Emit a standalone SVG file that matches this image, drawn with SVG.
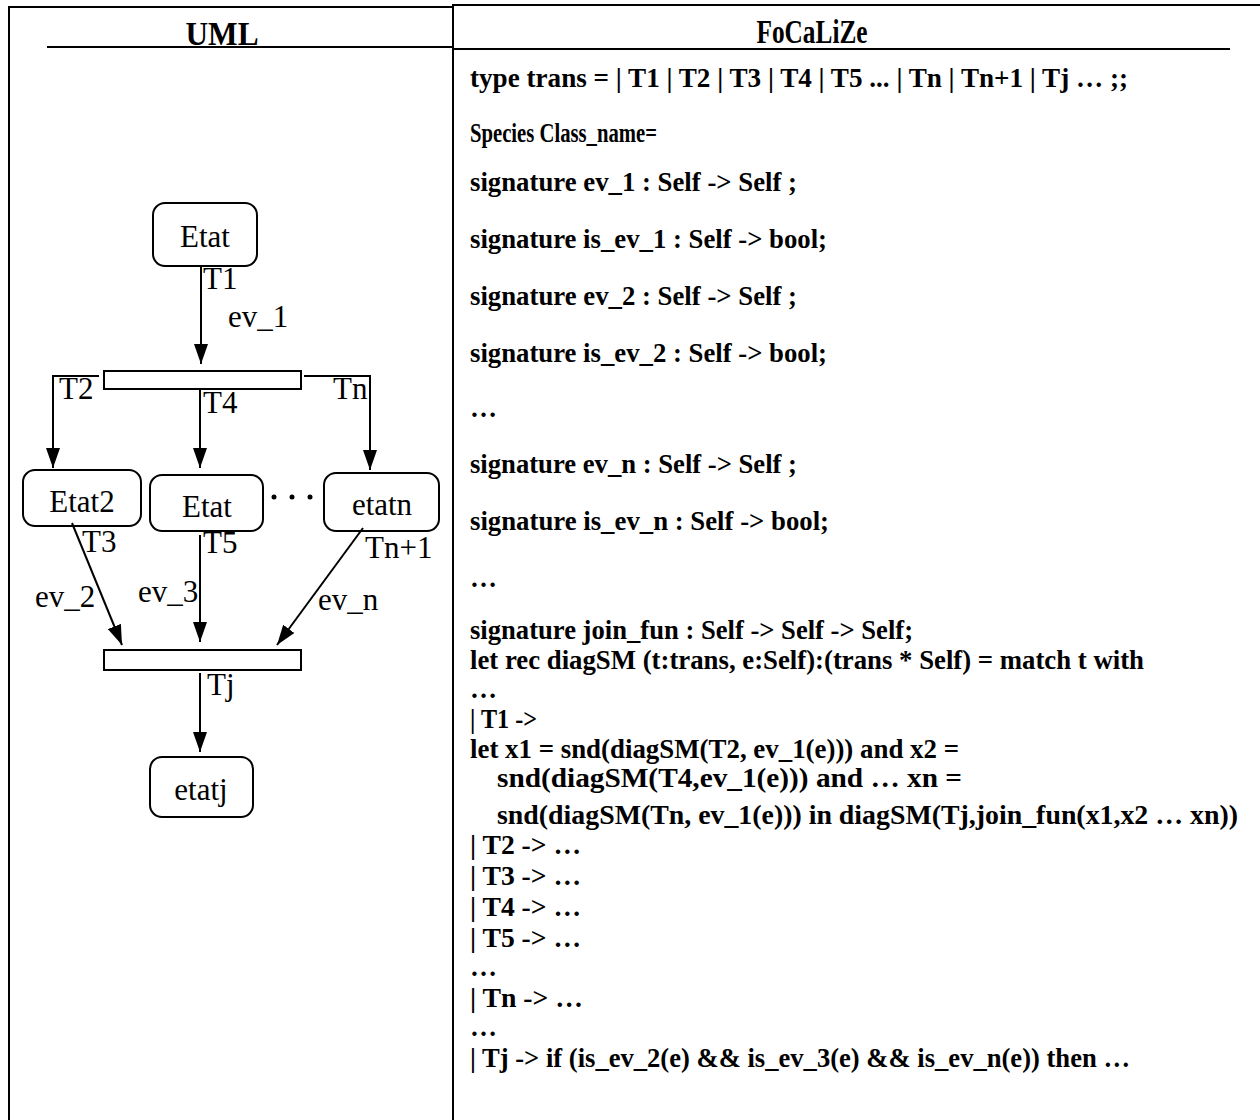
<svg xmlns="http://www.w3.org/2000/svg" width="1260" height="1120" viewBox="0 0 1260 1120">
<style>
.frame{stroke:#000;stroke-width:2;fill:none}
.hdr{font-family:"Liberation Serif","Times New Roman",serif;font-weight:bold;font-size:34px;text-anchor:middle}
.code{font-family:"Liberation Serif","Times New Roman",serif;font-weight:bold;font-size:27px}
.state{fill:#fff;stroke:#000;stroke-width:2}
.bar{fill:#fff;stroke:#000;stroke-width:2}
.lbl{font-family:"Liberation Serif","Times New Roman",serif;font-size:31px}
.nm{font-family:"Liberation Serif","Times New Roman",serif;font-size:31px;text-anchor:middle}
.edge{stroke:#000;stroke-width:2;fill:none;marker-end:url(#arr)}
</style>
<defs>
<marker id="arr" viewBox="0 0 20 14" refX="20" refY="7" markerWidth="20" markerHeight="14" markerUnits="userSpaceOnUse" orient="auto">
<path d="M0,0 L20,7 L0,14 z" fill="#000"/>
</marker>
</defs>
<rect width="1260" height="1120" fill="#fff"/>
<g id="table">
<line class="frame" x1="9" y1="7" x2="453" y2="7"/>
<line class="frame" x1="453" y1="5" x2="1260" y2="5"/>
<line class="frame" x1="9" y1="6" x2="9" y2="1120"/>
<line class="frame" x1="453" y1="4" x2="453" y2="1120"/>
<line class="frame" x1="47" y1="47" x2="453" y2="47"/>
<line class="frame" x1="453" y1="49" x2="1230" y2="49"/>
<text class="hdr" x="222" y="45" textLength="73" lengthAdjust="spacingAndGlyphs">UML</text>
<text class="hdr" x="812" y="43" textLength="111" lengthAdjust="spacingAndGlyphs">FoCaLiZe</text>
</g>
<g id="code">
<text class="code" x="470" y="87" textLength="658" lengthAdjust="spacingAndGlyphs">type trans = | T1 | T2 | T3 | T4 | T5 ... | Tn | Tn+1 | Tj … ;;</text>
<text class="code" x="470" y="142" textLength="187" lengthAdjust="spacingAndGlyphs">Species Class_name=</text>
<text class="code" x="470" y="191" textLength="327" lengthAdjust="spacingAndGlyphs">signature ev_1 : Self -&gt; Self ;</text>
<text class="code" x="470" y="248" textLength="357" lengthAdjust="spacingAndGlyphs">signature is_ev_1 : Self -&gt; bool;</text>
<text class="code" x="470" y="305" textLength="327" lengthAdjust="spacingAndGlyphs">signature ev_2 : Self -&gt; Self ;</text>
<text class="code" x="470" y="362" textLength="357" lengthAdjust="spacingAndGlyphs">signature is_ev_2 : Self -&gt; bool;</text>
<text class="code" x="470" y="417">…</text>
<text class="code" x="470" y="473" textLength="327" lengthAdjust="spacingAndGlyphs">signature ev_n : Self -&gt; Self ;</text>
<text class="code" x="470" y="530" textLength="359" lengthAdjust="spacingAndGlyphs">signature is_ev_n : Self -&gt; bool;</text>
<text class="code" x="470" y="587">…</text>
<text class="code" x="470" y="639" textLength="443" lengthAdjust="spacingAndGlyphs">signature join_fun : Self -&gt; Self -&gt; Self;</text>
<text class="code" x="470" y="669" textLength="674" lengthAdjust="spacingAndGlyphs">let rec diagSM (t:trans, e:Self):(trans * Self) = match t with</text>
<text class="code" x="470" y="698">…</text>
<text class="code" x="470" y="728" textLength="67" lengthAdjust="spacingAndGlyphs">| T1 -&gt;</text>
<text class="code" x="470" y="758" textLength="489" lengthAdjust="spacingAndGlyphs">let x1 = snd(diagSM(T2, ev_1(e))) and x2 =</text>
<text class="code" x="497" y="787" textLength="465" lengthAdjust="spacingAndGlyphs">snd(diagSM(T4,ev_1(e))) and … xn =</text>
<text class="code" x="497" y="824" textLength="741" lengthAdjust="spacingAndGlyphs">snd(diagSM(Tn, ev_1(e))) in diagSM(Tj,join_fun(x1,x2 … xn))</text>
<text class="code" x="470" y="854" textLength="111" lengthAdjust="spacingAndGlyphs">| T2 -&gt; …</text>
<text class="code" x="470" y="885" textLength="111" lengthAdjust="spacingAndGlyphs">| T3 -&gt; …</text>
<text class="code" x="470" y="916" textLength="111" lengthAdjust="spacingAndGlyphs">| T4 -&gt; …</text>
<text class="code" x="470" y="947" textLength="111" lengthAdjust="spacingAndGlyphs">| T5 -&gt; …</text>
<text class="code" x="470" y="976">…</text>
<text class="code" x="470" y="1007" textLength="113" lengthAdjust="spacingAndGlyphs">| Tn -&gt; …</text>
<text class="code" x="470" y="1036">…</text>
<text class="code" x="470" y="1067" textLength="660" lengthAdjust="spacingAndGlyphs">| Tj -&gt; if (is_ev_2(e) &amp;&amp; is_ev_3(e) &amp;&amp; is_ev_n(e)) then …</text>
</g>
<g id="node-etat">
<rect class="state" x="153" y="203" width="104" height="63" rx="12"/>
<text class="nm" x="205" y="247">Etat</text>
</g>
<g id="node-fork">
<rect class="bar" x="104" y="371" width="197" height="18"/>
</g>
<g id="node-etat2">
<rect class="state" x="23" y="470" width="118" height="56" rx="12"/>
<text class="nm" x="82" y="512">Etat2</text>
</g>
<g id="node-etat-mid">
<rect class="state" x="150" y="475" width="113" height="56" rx="12"/>
<text class="nm" x="207" y="517">Etat</text>
</g>
<g id="node-dots">
<circle cx="274" cy="497" r="2.5"/>
<circle cx="292" cy="497" r="2.5"/>
<circle cx="310" cy="497" r="2.5"/>
</g>
<g id="node-etatn">
<rect class="state" x="324" y="473" width="115" height="58" rx="12"/>
<text class="nm" x="382" y="515">etatn</text>
</g>
<g id="node-join">
<rect class="bar" x="104" y="650" width="197" height="20"/>
</g>
<g id="node-etatj">
<rect class="state" x="150" y="757" width="103" height="60" rx="12"/>
<text class="nm" x="201" y="800">etatj</text>
</g>
<g id="connectors">
<path class="edge" d="M201,266 L201,364"/>
<path class="edge" d="M99,376 L53,376 L53,468"/>
<path class="edge" d="M200,389 L200,468"/>
<path class="edge" d="M304,376 L370,376 L370,470"/>
<path class="edge" d="M72,523 L122,645"/>
<path class="edge" d="M200,535 L200,642"/>
<path class="edge" d="M363,528 L277,645"/>
<path class="edge" d="M200,673 L200,752"/>
<text class="lbl" x="203" y="289">T1</text>
<text class="lbl" x="228" y="327">ev_1</text>
<text class="lbl" x="59" y="399">T2</text>
<text class="lbl" x="203" y="413">T4</text>
<text class="lbl" x="333" y="399">Tn</text>
<text class="lbl" x="82" y="552">T3</text>
<text class="lbl" x="35" y="607">ev_2</text>
<text class="lbl" x="203" y="553">T5</text>
<text class="lbl" x="138" y="602">ev_3</text>
<text class="lbl" x="365" y="558">Tn+1</text>
<text class="lbl" x="318" y="610">ev_n</text>
<text class="lbl" x="207" y="695">Tj</text>
</g>
</svg>
